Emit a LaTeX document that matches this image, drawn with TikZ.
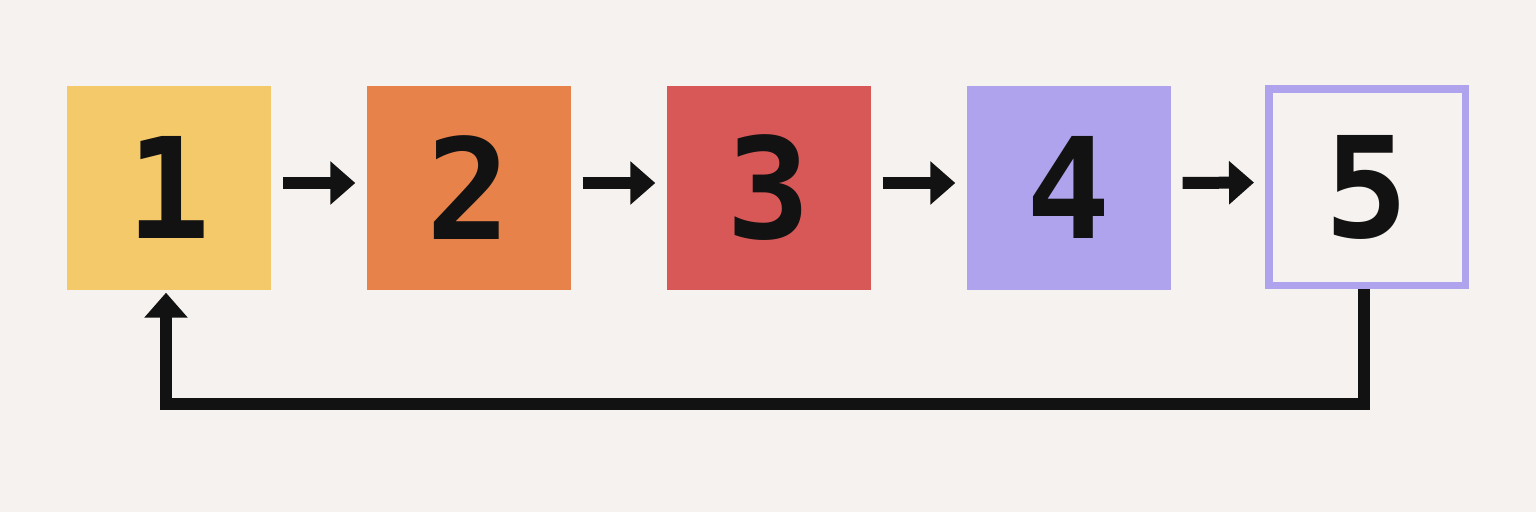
\documentclass[tikz,border=0pt]{standalone}
\usepackage{fontspec}
\setmonofont{DejaVu Sans Mono}
\usetikzlibrary{arrows.meta}
\definecolor{bg}{HTML}{F5F2EF}
\definecolor{cyel}{HTML}{F3C96A}
\definecolor{corg}{HTML}{E8824B}
\definecolor{cred}{HTML}{D85858}
\definecolor{clav}{HTML}{AEA3EC}
\definecolor{ink}{HTML}{121212}
\tikzset{
  numbox/.style={minimum size=204pt, inner sep=0pt, text=ink,
    font=\fontsize{140}{140}\selectfont\ttfamily\bfseries},
  flow/.style={draw=ink, line width=12pt, line join=miter,
    -{Triangle[length=25pt,width=42pt]}},
}
\begin{document}
\begin{tikzpicture}[x=1pt,y=-1pt]
\fill[bg] (0,0) rectangle (1536,512);
\useasboundingbox (0,0) rectangle (1536,512);
\node[numbox, fill=cyel] (n1) at (169,187.5) {1};
\node[numbox, fill=corg] (n2) at (468.5,187.5) {2};
\node[numbox, fill=cred] (n3) at (768.5,187.5) {3};
\node[numbox, fill=clav] (n4) at (1068.5,187.5) {4};
\node[numbox, minimum size=196.5pt, draw=clav, line width=7.5pt, fill=bg] (n5) at (1367,187) {5};
\draw[flow, shorten <=12pt, shorten >=11pt] ([yshift=4.5pt]n1.east) -- ([yshift=4.5pt]n2.west);
\draw[flow, shorten <=12pt, shorten >=11pt] ([yshift=4.5pt]n2.east) -- ([yshift=4.5pt]n3.west);
\draw[flow, shorten <=12pt, shorten >=11pt] ([yshift=4.5pt]n3.east) -- ([yshift=4.5pt]n4.west);
\draw[flow, shorten <=12pt, shorten >=11pt] ([yshift=4.5pt]n4.east) -- ([yshift=4.5pt]n5.west);
\coordinate (n1in) at ([xshift=-3pt]n1.south);
\coordinate (loopy) at (0,403.5);
\draw[flow, shorten >=3pt] ([xshift=-3.5pt]n5.south) |- (loopy -| n1in) -- (n1in);
\end{tikzpicture}
\end{document}
